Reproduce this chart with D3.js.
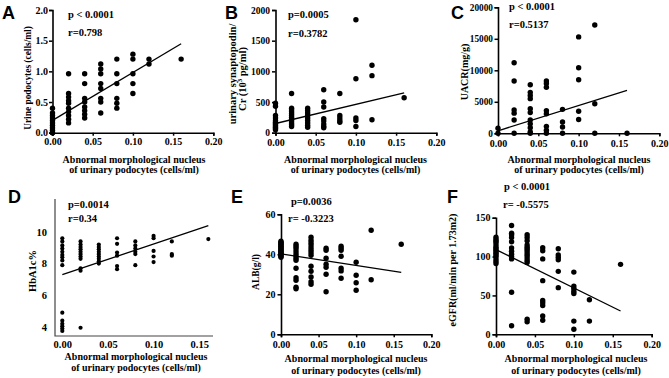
<!DOCTYPE html>
<html><head><meta charset="utf-8">
<script src="https://cdn.jsdelivr.net/npm/d3@7"></script>
<style>body{margin:0;background:#fff}svg{display:block}</style>
</head><body>
<script>
// ---------- data ----------
const xCols = [0, 0.02, 0.04, 0.06, 0.08, 0.10, 0.12, 0.16];
const xTicks20 = [0, 0.05, 0.10, 0.15, 0.20];
const xTicks15 = [0, 0.05, 0.10, 0.15];

const aY = [
  [0, 0, 0.04, 0.08, 0.12, 0.16, 0.2, 0.24, 0.28, 0.32, 0.4],
  [0.96, 0.64, 0.58, 0.52, 0.48, 0.4, 0.34, 0.28, 0.22, 0.16],
  [0.96, 0.8, 0.56, 0.5, 0.42, 0.36, 0.3, 0.24],
  [1.12, 1.04, 0.96, 0.8, 0.72, 0.56, 0.5, 0.32],
  [1.2, 0.96, 0.8, 0.56, 0.48, 0.4],
  [1.28, 1.2, 0.96, 0.8, 0.64],
  [1.2, 1.12],
  [1.2]
];
const aFit = [[0, 0.2], [0.16, 1.45]];
const aTicks = [0, 0.5, 1.0, 1.5, 2.0];

const bY = [
  [480, 430, 280, 240, 200, 170, 150, 130, 110, 90, 70, 50],
  [640, 400, 370, 340, 310, 280, 250, 220, 190, 160, 130, 100],
  [400, 360, 320, 280, 240, 200, 160, 120, 90],
  [700, 500, 420, 230, 190, 140, 100, 80],
  [640, 280, 240, 200, 170],
  [1840, 880, 240, 200, 100],
  [1100, 930, 210],
  [570]
];
const bFit = [[0, 150], [0.16, 650]];
const bTicks = [0, 500, 1000, 1500, 2000];

const cY = [
  [800, 0],
  [11200, 8300, 3700, 3200, 2100, 0],
  [7700, 6500, 6000, 5500, 3900, 3300, 2100, 1500, 900, 200, 0],
  [8300, 7900, 7300, 3600, 3100, 1100, 500, 0],
  [3800, 1800, 1000, 0],
  [15300, 10400, 8500, 3500, 2200],
  [17200, 4700, 0],
  [0]
];
const cFit = [[0, 400], [0.16, 6800]];
const cTicks = [0, 5000, 10000, 15000, 20000];

const dY = [
  [9.6, 9.4, 9.15, 8.95, 8.75, 8.55, 8.4, 8.2, 7.9, 4.9, 4.4, 4.2, 4.05, 3.9, 3.75],
  [9.4, 9.2, 9.05, 8.9, 8.75, 8.6, 8.45, 8.3, 7.7, 7.55, 3.95],
  [9.2, 9.05, 8.9, 8.75, 8.6, 8.45, 8.3, 8.15, 8.0],
  [9.6, 9.25, 8.7, 8.5, 7.85, 7.65],
  [9.4, 9.15, 8.95, 8.75, 8.6, 7.9],
  [9.75, 9.6, 8.8, 8.45, 8.1],
  [9.4, 8.6, 8.5],
  [9.55]
];
const dFit = [[0, 7.3], [0.16, 10.4]];
const dTicks = [4, 6, 8, 10];

const eY = [
  [46.5, 46, 45.5, 45, 44.5, 44, 43.5, 43, 42.5, 42, 41.5, 41, 40.5, 40, 39.5, 39, 38.5],
  [45, 44, 43, 41.7, 40.3, 39.2, 38, 37, 33, 28.3, 27, 23.5, 22.8],
  [48.5, 47, 45.8, 44.7, 43.3, 42, 40.8, 39.5, 34, 31.5, 28.7, 26.3, 25],
  [43, 42, 38, 35, 33.5, 30, 21.3],
  [44, 43, 42, 39, 33, 31.7, 28],
  [36, 29.5, 25.8, 22],
  [52, 27.3],
  [45]
];
const eFit = [[0, 40.2], [0.16, 31]];
const eTicks = [0, 20, 40, 60];

const fY = [
  [125, 122, 120, 118, 115, 112, 110, 108, 106, 104, 102, 100, 97, 94, 91],
  [140, 130, 128, 124.5, 119, 111, 107, 103, 100, 97, 54, 11],
  [128, 124.5, 120.5, 115, 112, 109.5, 106.5, 103.5, 101, 98, 95, 92.5, 19.5, 16],
  [111.5, 107.5, 97, 69, 43.5, 40.5, 37, 23.5, 18],
  [110, 102, 99, 96, 81, 60],
  [80, 62, 59, 55.5, 52.5, 17, 6.5],
  [44.5, 17],
  [90]
];
const fFit = [[0, 109], [0.16, 30]];
const fTicks = [0, 50, 100, 150];

const xTitle = ["Abnormal morphological nucleus", "of urinary podocytes (cells/ml)"];

// ---------- drawing ----------
const W = 669, H = 378;
const svg = d3.select("body").append("svg").attr("width", W).attr("height", H);
const SERIF = "'Liberation Serif','Times New Roman',serif";
const SANS = "'Liberation Sans',Arial,sans-serif";

function panel(o) {
  const g = svg.append("g");
  const x = d3.scaleLinear().domain(o.xdom).range(o.xr);
  const y = d3.scaleLinear().domain(o.ydom).range(o.yr);

  if (o.frame) {
    g.append("path")
      .attr("d", `M${o.xr[0]},${o.frameTop}V${o.yr[0]}H${o.xr[1] + 1}`)
      .attr("fill", "none").attr("stroke", "#444").attr("stroke-width", 1.2);
  }

  const xa = d3.axisBottom(x).tickValues(o.xticks).tickFormat(d3.format(".2f"))
    .tickSize(o.frame ? 0 : 3).tickPadding(o.xpad);
  const ya = d3.axisLeft(y).tickValues(o.yticks).tickFormat(d3.format(o.yfmt))
    .tickSize(o.frame ? 0 : 3.5).tickPadding(o.ypad);

  const gx = g.append("g").attr("transform", `translate(0,${o.yr[0]})`).call(xa);
  const gy = g.append("g").attr("transform", `translate(${o.xr[0]},0)`).call(ya);
  gx.selectAll("text").attr("font-size", o.tfs);
  gy.selectAll("text").attr("font-size", o.ytfs || o.tfs);
  [gx, gy].forEach(a => {
    a.selectAll("text").attr("font-family", SERIF).attr("font-weight", "bold").attr("fill", "#000");
    a.selectAll("line").attr("stroke", "#000").attr("stroke-width", 1.5);
    a.select(".domain").attr("stroke", o.frame ? "none" : "#000").attr("stroke-width", 1.6);
  });

  const pts = [];
  xCols.forEach((xv, i) => o.ys[i].forEach(yv => pts.push([xv, yv])));
  g.append("g").selectAll("circle").data(pts).join("circle")
    .attr("cx", d => x(d[0])).attr("cy", d => y(d[1])).attr("r", o.r).attr("fill", "#000");

  g.append("path").datum(o.fit)
    .attr("d", d3.line().x(d => x(d[0])).y(d => y(d[1])))
    .attr("stroke", "#000").attr("stroke-width", 1.3).attr("fill", "none");

  g.append("text").attr("x", o.letter[0]).attr("y", o.letter[1]).text(o.L)
    .attr("font-family", SANS).attr("font-weight", "bold").attr("font-size", 18);

  o.stats.forEach(s => g.append("text").attr("x", s[0]).attr("y", s[1]).text(s[2])
    .attr("font-family", SERIF).attr("font-weight", "bold").attr("font-size", 10.5));

  // y title
  o.ytitle.forEach(t => {
    const tx = g.append("text")
      .attr("transform", `translate(${t.x},${t.cy}) rotate(-90)`)
      .attr("text-anchor", "middle")
      .attr("font-family", SERIF).attr("font-weight", "bold").attr("font-size", o.yfs);
    if (t.parts) {
      t.parts.forEach(p => tx.append("tspan").text(p[0])
        .attr("font-size", p[1] ? o.yfs * 0.65 : null).attr("dy", p[2] || 0));
    } else tx.text(t.s);
  });

  // x title
  xTitle.forEach((s, i) => g.append("text").attr("x", o.xtc).attr("y", o.xtb[i])
    .attr("text-anchor", "middle").text(s)
    .attr("font-family", SERIF).attr("font-weight", "bold").attr("font-size", 10));
}

panel({L: "A", letter: [2, 19], xdom: [0, 0.2], xr: [52.5, 213.3], ydom: [0, 2], yr: [132.7, 10],
  xticks: xTicks20, yticks: aTicks, yfmt: ".1f", ys: aY, fit: aFit, r: 2.7, tfs: 10, xpad: 2.5, ypad: 1,
  stats: [[68, 18, "p < 0.0001"], [68, 36, "r=0.798"]],
  ytitle: [{x: 31, cy: 78, s: "Urine podocytes (cells/ml)"}], yfs: 9.4,
  xtc: 134, xtb: [162.5, 172.5]});

panel({L: "B", letter: [225, 19], xdom: [0, 0.2], xr: [275.5, 436.3], ydom: [0, 2000], yr: [132.7, 10],
  xticks: xTicks20, yticks: bTicks, yfmt: "d", ys: bY, fit: bFit, r: 2.7, tfs: 10, ytfs: 9.5, xpad: 3.5, ypad: 2,
  stats: [[288, 18, "p=0.0005"], [288, 36.5, "r=0.3782"]],
  ytitle: [{x: 236, cy: 74, s: "urinary synaptopodin/"},
           {x: 245.5, cy: 79, parts: [["Cr (10", 0, 0], ["3", 1, -4], [" pg/ml)", 0, 4]]}], yfs: 10.5,
  xtc: 355.5, xtb: [162.5, 172.5]});

panel({L: "C", letter: [451, 19], xdom: [0, 0.2], xr: [498, 659.3], ydom: [0, 20000], yr: [133.3, 7.3],
  xticks: xTicks20, yticks: cTicks, yfmt: "d", ys: cY, fit: cFit, r: 2.7, tfs: 10, ytfs: 9.3, xpad: 3.5, ypad: 1.5,
  stats: [[509, 10, "p < 0.0001"], [509, 28, "r=0.5137"]],
  ytitle: [{x: 467.5, cy: 72, s: "UACR(mg/g)"}], yfs: 10,
  xtc: 579, xtb: [162.5, 172.5]});

panel({L: "D", letter: [8, 203], frame: true, frameTop: 199, xdom: [-0.008, 0.164], xr: [55, 212], ydom: [3.43, 11.7], yr: [336, 205],
  xticks: xTicks15, yticks: dTicks, yfmt: "d", ys: dY, fit: dFit, r: 2.1, tfs: 10.5, xpad: 5, ypad: 8,
  stats: [[68, 208, "p=0.0014"], [68, 221.7, "r=0.34"]],
  ytitle: [{x: 36, cy: 271, s: "HbA1c%"}], yfs: 10.5,
  xtc: 136, xtb: [359.5, 370.5]});

panel({L: "E", letter: [231, 203], xdom: [0, 0.2], xr: [281, 431.3], ydom: [0, 60], yr: [334.3, 214.3],
  xticks: xTicks20, yticks: eTicks, yfmt: "d", ys: eY, fit: eFit, r: 2.7, tfs: 10, xpad: 4, ypad: 2,
  stats: [[291, 205, "p=0.0036"], [288, 221.7, "r= -0.3223"]],
  ytitle: [{x: 259, cy: 272, s: "ALB(g/l)"}], yfs: 9.5,
  xtc: 356, xtb: [362, 373.5]});

panel({L: "F", letter: [447, 203], xdom: [0, 0.2], xr: [496, 651.7], ydom: [0, 150], yr: [334.3, 217.7],
  xticks: xTicks20, yticks: fTicks, yfmt: "d", ys: fY, fit: fFit, r: 2.7, tfs: 10, xpad: 4, ypad: 2,
  stats: [[504, 190, "p < 0.0001"], [503, 208, "r= -0.5575"]],
  ytitle: [{x: 456, cy: 270, s: "eGFR(ml/min per 1.73m2)"}], yfs: 10,
  xtc: 576, xtb: [362, 373.5]});
</script>
</body></html>
